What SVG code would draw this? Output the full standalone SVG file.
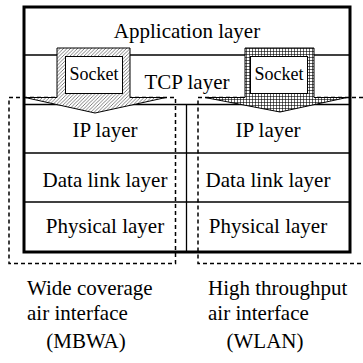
<svg xmlns="http://www.w3.org/2000/svg" width="363" height="363" viewBox="0 0 363 363">
<style>
  .t { font-family: 'Liberation Serif', 'Times New Roman', serif; font-size: 21px; fill: #000; }
  .mid { text-anchor: middle; }
  .sock { font-size: 18px; }
  .thin { stroke: #000; stroke-width: 1.3; fill: none; }
  .thick { stroke: #000; stroke-width: 3; fill: none; }
  .dash { stroke: #000; stroke-width: 1.5; fill: none; stroke-dasharray: 4 3; }
  .hatch { fill: url(#diag); stroke: #000; stroke-width: 1; }
  .grid { fill: url(#grid); stroke: #000; stroke-width: 1; }
  .inner { fill: #fff; stroke: #000; stroke-width: 1; }
</style>
<defs>
  <pattern id="diag" width="3.5" height="3.5" patternUnits="userSpaceOnUse">
    <rect width="3.5" height="3.5" fill="#fff"/>
    <path d="M-1,1 L1,-1 M0,3.5 L3.5,0 M2.5,4.5 L4.5,2.5" stroke="#000" stroke-width="0.5"/>
  </pattern>
  <pattern id="grid" width="3" height="3" patternUnits="userSpaceOnUse">
    <rect width="3" height="3" fill="#fff"/>
    <path d="M0,0.5 H3 M0.5,0 V3" stroke="#000" stroke-width="0.6"/>
  </pattern>
</defs>

<g id="protocol-stack">
  <rect class="thick" x="24" y="7" width="326" height="245" fill="#fff"/>
  <line class="thin" x1="24" y1="55" x2="350" y2="55"/>
  <line class="thin" x1="24" y1="104.5" x2="350" y2="104.5"/>
  <line class="thin" x1="24" y1="153" x2="350" y2="153"/>
  <line class="thin" x1="24" y1="202" x2="350" y2="202"/>
  <line class="thin" x1="186.5" y1="104.5" x2="186.5" y2="252"/>
</g>

<g id="application-layer"><text class="t mid" x="187" y="38">Application layer</text></g>
<g id="tcp-layer"><text class="t mid" x="187" y="89">TCP layer</text></g>
<g id="ip-layer-left"><text class="t mid" x="105" y="137">IP layer</text></g>
<g id="ip-layer-right"><text class="t mid" x="268" y="137">IP layer</text></g>
<g id="datalink-layer-left"><text class="t mid" x="105" y="187">Data link layer</text></g>
<g id="datalink-layer-right"><text class="t mid" x="268" y="187">Data link layer</text></g>
<g id="physical-layer-left"><text class="t mid" x="105" y="233">Physical layer</text></g>
<g id="physical-layer-right"><text class="t mid" x="268" y="233">Physical layer</text></g>

<g id="mbwa-interface">
  <rect class="dash" x="9" y="97.5" width="166.5" height="166"/>
  <text class="t" x="27" y="295">Wide coverage</text>
  <text class="t" x="27" y="320">air interface</text>
  <text class="t mid" x="86" y="348">(MBWA)</text>
</g>

<g id="wlan-interface">
  <path class="dash" d="M370,97.5 H198 V263.5 H370"/>
  <text class="t" x="208" y="295">High throughput</text>
  <text class="t" x="208" y="320">air interface</text>
  <text class="t mid" x="265" y="348">(WLAN)</text>
</g>

<g id="socket-left">
  <path class="hatch" d="M57,48 H130 V97.5 H166 L95,113 L25,97.5 H57 Z"/>
  <rect class="inner" x="65.5" y="56.5" width="57" height="37"/>
  <text class="t sock mid" x="94" y="80">Socket</text>
</g>

<g id="socket-right">
  <path class="grid" d="M245,48 H314 V97.5 H347 L280,112 L205,97.5 H245 Z"/>
  <rect class="inner" x="250.5" y="56.5" width="57" height="37"/>
  <text class="t sock mid" x="279" y="80">Socket</text>
</g>

<g id="connectors"></g>
</svg>
